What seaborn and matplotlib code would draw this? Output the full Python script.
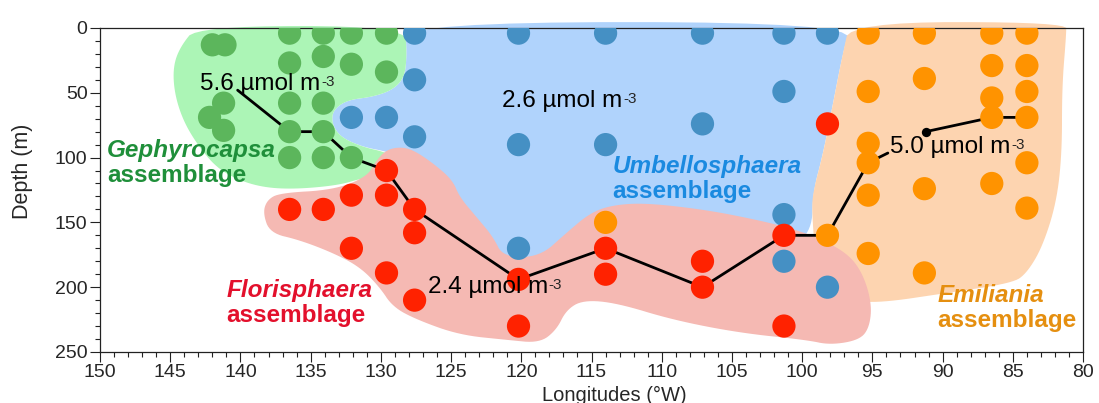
import numpy as np
import pandas as pd
import matplotlib
matplotlib.use("Agg")
import matplotlib.pyplot as plt
import seaborn as sns
from matplotlib.ticker import MultipleLocator

# ---------------- data ----------------
green_lon = [142.0, 141.1, 136.5, 134.1, 132.1, 129.6, 136.5, 134.1, 132.1, 129.6,
             141.2, 142.2, 141.2, 136.5, 134.1, 136.5, 134.1, 136.5, 134.1, 132.1]
green_depth = [13, 13, 4, 4, 4, 4, 27, 22, 28, 34,
               58, 69, 79, 58, 58, 80, 80, 100, 100, 100]

blue_lon = [127.6, 127.6, 132.1, 129.6, 127.6, 120.2, 114.0, 107.1, 101.3, 98.2,
            101.3, 107.1, 120.2, 114.0, 101.3, 120.2, 101.3, 98.2]
blue_depth = [4, 40, 69, 69, 84, 4, 4, 4, 4, 4,
              49, 74, 90, 90, 144, 170, 180, 200]

orange_lon = [114.0, 98.2, 95.3, 91.3, 86.5, 84.0, 95.3, 91.3, 86.5, 84.0, 86.5, 84.0,
              86.5, 84.0, 95.3, 95.3, 84.0, 95.3, 91.3, 86.5, 84.0, 95.3, 91.3]
orange_depth = [150, 160, 4, 4, 4, 4, 49, 39, 29, 29, 54, 49,
                69, 69, 89, 104, 104, 129, 124, 120, 139, 174, 189]

red_lon = [129.6, 132.1, 129.6, 136.5, 134.1, 127.6, 127.6, 132.1, 129.6, 127.6,
           120.2, 120.2, 114.0, 114.0, 107.1, 107.1, 101.3, 101.3, 98.2]
red_depth = [110, 129, 129, 140, 140, 140, 158, 170, 189, 210,
             194, 230, 170, 190, 180, 200, 160, 230, 74]

# concentration line (two segments)
line_lon = [140.2, 136.5, 134.1, 132.1, 129.6, 127.6, 120.2, 114.0, 107.1, 101.3, 98.2, 95.3, 93.9,
            91.2, 86.5, 84.0]
line_depth = [48, 80, 80, 100, 110, 140, 194, 170, 200, 160, 160, 104, 96.5,
              80, 69, 69]
line_seg = [0] * 13 + [1] * 3
dot_lon = [91.2]
dot_depth = [80]

# assemblage regions (lon, depth outlines)
green_reg_lon = [143.1, 128.3, 128.15, 128.3, 129.15, 130.6, 132.4, 133.4, 133.5, 132.9, 131.3,
                 129.7, 128.65, 129.0, 131.3, 132.9, 135.8, 138.1, 140.0, 141.7, 143.1, 144.1,
                 144.7, 144.8, 144.3]
green_reg_depth = [-1.5, -1.5, 19.3, 37.8, 47.8, 53.2, 55.6, 63.3, 73.3, 84.1, 91.8,
                   95.7, 101.9, 113.4, 115.7, 121.1, 124.2, 123.5, 118.1, 108.0, 89.5, 71.0,
                   50.2, 30.1, 14.7]

blue_reg_lon = [128.3, 96.5, 97.1, 97.8, 98.5, 99.25, 99.3, 100.9, 107.3, 114.4, 118.7, 121.2,
                123.0, 125.1, 127.2, 129.4, 131.3, 132.9, 133.5, 133.4, 132.4, 130.6, 129.15,
                128.3, 128.15]
blue_reg_depth = [-4.5, -4.5, 19.3, 57.9, 96.5, 127.3, 155.9, 171.3, 163.6, 159.7, 180.6, 180.6,
                  155.9, 125.0, 105.7, 95.7, 91.8, 84.1, 73.3, 63.3, 55.6, 53.2, 47.8,
                  37.8, 19.3]

peach_reg_lon = [96.6, 81.2, 81.2, 81.5, 81.5, 81.9, 82.9, 84.0, 85.0, 89.7, 94.5, 96.6,
                 99.1, 99.3, 99.25, 98.5, 97.8, 97.1]
peach_reg_depth = [-4.5, -4.5, 5.4, 45.5, 96.5, 135, 169, 189, 196.8, 204.5, 212.2, 210,
                   171.3, 142.7, 127.3, 96.5, 57.9, 19.3]

red_reg_lon = [138.1, 137.2, 133.4, 131.0, 130.3, 129.6, 128.65, 127.7, 126.3, 124.9, 124.4,
               123.2, 122.0, 121.3, 118.7, 116.8, 115.1, 113.5, 111.1, 106.8, 103.2, 100.9,
               99.0, 96.8, 95.7, 95.05, 95.2, 95.9, 98.0, 99.7, 104.45, 109.2, 113.2, 115.6,
               116.8, 117.5, 118.7, 121.0, 124.4, 127.4, 129.15, 130.1, 131.5, 133.4, 135.8,
               137.9, 138.4]
red_reg_depth = [132.7, 127.3, 125, 115, 101.9, 94.1, 91.8, 94.1, 104.2, 117.3, 130.4,
                 145.8, 161.3, 176.7, 176.7, 158.2, 142.7, 136.6, 135, 140.4, 148.1, 154.3,
                 161.3, 173.6, 189, 212.2, 230.7, 240.7, 244.6, 240.7, 235.3, 225.3, 212.2, 209.9,
                 217.6, 233, 243.1, 240.7, 236.9, 225.3, 215.3, 199.8, 184.4, 173.6, 163.6,
                 158.2, 142.7]

x_ticks = [150, 145, 140, 135, 130, 125, 120, 115, 110, 105, 100, 95, 90, 85, 80]
y_ticks = [0, 50, 100, 150, 200, 250]

# ---------------- styling ----------------
sns.set_theme(style="ticks")
plt.rcParams["font.family"] = ["Liberation Sans", "DejaVu Sans"]

C_GREEN, C_BLUE, C_ORANGE, C_RED = "#5cb65c", "#4590c4", "#ff9300", "#ff2200"
R_GREEN, R_BLUE, R_PEACH, R_RED = "#acf5b6", "#b0d3fc", "#fdd4b0", "#f5b9b3"


def chaikin(xs, ys, n=3):
    p = np.column_stack([xs, ys]).astype(float)
    for _ in range(n):
        q = np.roll(p, -1, axis=0)
        p = np.vstack([np.column_stack([0.75 * p + 0.25 * q]), 0.25 * p + 0.75 * q])
        # interleave
        m = len(p) // 2
        inter = np.empty_like(p)
        inter[0::2] = p[:m]
        inter[1::2] = p[m:]
        p = inter
    return p[:, 0], p[:, 1]


fig = plt.figure(figsize=(10.99, 4.03), dpi=100)
ax = fig.add_axes([0.0910, 0.1266, 0.8945, 0.8040])

for rl, rd, col in [(blue_reg_lon, blue_reg_depth, R_BLUE),
                    (green_reg_lon, green_reg_depth, R_GREEN),
                    (peach_reg_lon, peach_reg_depth, R_PEACH),
                    (red_reg_lon, red_reg_depth, R_RED)]:
    sx, sy = chaikin(rl, rd)
    ax.fill(sx, sy, color=col, lw=0, zorder=1, clip_on=False)

line_df = pd.DataFrame({"lon": line_lon, "depth": line_depth, "seg": line_seg})
sns.lineplot(data=line_df, x="lon", y="depth", units="seg", estimator=None, sort=False,
             color="black", lw=2.0, ax=ax, zorder=2, legend=False)

pts = pd.concat([
    pd.DataFrame({"lon": green_lon, "depth": green_depth, "grp": "Gephyrocapsa"}),
    pd.DataFrame({"lon": blue_lon, "depth": blue_depth, "grp": "Umbellosphaera"}),
    pd.DataFrame({"lon": orange_lon, "depth": orange_depth, "grp": "Emiliania"}),
    pd.DataFrame({"lon": red_lon, "depth": red_depth, "grp": "Florisphaera"}),
], ignore_index=True)
sns.scatterplot(data=pts, x="lon", y="depth", hue="grp",
                palette={"Gephyrocapsa": C_GREEN, "Umbellosphaera": C_BLUE,
                         "Emiliania": C_ORANGE, "Florisphaera": C_RED},
                s=280, linewidth=0, legend=False, ax=ax, zorder=3)
sns.scatterplot(x=dot_lon, y=dot_depth, color="black", s=45, linewidth=0, ax=ax, zorder=3)

# concentration labels
def conc(x, y, txt):
    t = ax.text(x, y, txt + " \u00b5mol m", fontsize=17.5, color="black",
                ha="left", va="baseline", zorder=5)
    ax.annotate("-3", xy=(1.0, 1.0), xycoords=t, xytext=(0.5, -1.5),
                textcoords="offset points", fontsize=11, ha="left", va="top", zorder=5)

conc(142.88, 47.8, "5.6")
conc(121.38, 61.0, "2.6")
conc(126.65, 204.5, "2.4")
conc(93.76, 96.5, "5.0")

def assemblage(x, y, name, col):
    ax.text(x, y, name, fontsize=17.5, color=col, fontweight="bold", fontstyle="italic",
            ha="left", va="baseline", zorder=5)
    ax.text(x, y + 19.5, "assemblage", fontsize=17.5, color=col, fontweight="bold",
            ha="left", va="baseline", zorder=5)

assemblage(149.5, 99.5, "Gephyrocapsa", "#1f8f3a")
assemblage(141.0, 207.6, "Florisphaera", "#e3102c")
assemblage(113.5, 111.9, "Umbellosphaera", "#1a8ae0")
assemblage(90.35, 211.4, "Emiliania", "#e58f10")

ax.set_xlim(150, 80)
ax.set_ylim(250, 0)
ax.set_xticks(x_ticks)
ax.set_yticks(y_ticks)
ax.xaxis.set_minor_locator(MultipleLocator(1))
ax.yaxis.set_minor_locator(MultipleLocator(10))
ax.tick_params(which="major", direction="out", length=7, width=0.8, labelsize=14,
               pad=2, color="#222222")
ax.tick_params(which="minor", direction="out", length=3.5, width=0.8, color="#222222")
for s in ax.spines.values():
    s.set_visible(True)
    s.set_linewidth(0.9)
    s.set_color("#222222")
ax.grid(False)
ax.set_facecolor("white")

ax.set_xlabel("Longitudes (\u00b0W)", fontsize=14.5)
ax.set_ylabel("Depth (m)", fontsize=15.5)
ax.xaxis.set_label_coords(0.523, -0.105)
ax.yaxis.set_label_coords(-0.068, 0.559)

fig.savefig("out.png", dpi=100)
